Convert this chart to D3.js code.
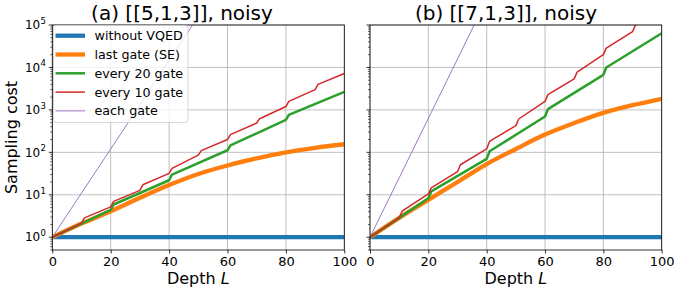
<!DOCTYPE html>
<html lang="en">
<head>
  <meta charset="utf-8">
  <title>Sampling cost</title>
  <script src="https://cdn.jsdelivr.net/npm/d3@7"></script>
  <style>
    body { margin: 0; background: #fff; }
    text { font-family: "DejaVu Sans", sans-serif; fill: #000; }
  </style>
</head>
<body>
  <script>
    // panel titles and legend names
    var panelTitles = ["(a) [[5,1,3]], noisy", "(b) [[7,1,3]], noisy"];
    var seriesNames = ["without VQED", "last gate (SE)", "every 20 gate", "every 10 gate", "each gate"];

    var xTicks = [0, 20, 40, 60, 80, 100];
    var yTickExps = [0, 1, 2, 3, 4, 5];

    // depth samples for each series
    var depthFlat = [0, 100];
    var depthSmooth = [0, 10, 20, 30, 40, 50, 60, 70, 80, 90, 100];
    var depthEvery20 = [0, 10, 20, 21, 40, 41, 60, 61, 80, 81, 100];
    var depthEvery10 = [0, 10, 11, 20, 21, 30, 31, 40, 41, 50, 51, 60, 61, 70, 71, 80, 81, 90, 91, 100];
    var depthEach = [0, 10, 20, 30, 40, 50];

    // (a) [[5,1,3]]
    var withoutA = [1, 1];
    var lastGateA = [1, 2.1, 4.1, 8.5, 17, 31, 49, 72, 100, 128, 155];
    var every20A = [1, 2.1, 4.4, 5.9, 22, 30, 112, 146, 580, 760, 2650];
    var every10A = [1, 2.15, 2.86, 5.2, 7.0, 12.7, 17.2, 32, 42, 86, 110, 200, 262, 490, 620, 1200, 1585, 3000, 4000, 7200];
    var eachA = [1, 11, 120, 1300, 14500, 160000];

    // (b) [[7,1,3]]
    var withoutB = [1, 1];
    var lastGateB = [1, 2.86, 7.6, 20, 53, 120, 262, 490, 850, 1290, 1830];
    var every20B = [1, 2.86, 8.3, 12, 70, 106, 700, 1040, 6700, 10000, 64000];
    var every10B = [1, 2.86, 4.1, 10.5, 14.5, 35, 51, 120, 182, 425, 610, 1585, 2290, 5370, 7800, 20000, 28600, 70000, 100000, 250000];
    var eachB = [1, 25, 630, 15800, 400000];

    var colors = ["#1f77b4", "#ff7f0e", "#2ca02c", "#d62728", "#9467bd"];
    var widths = [4.3, 4.3, 2.5, 1.5, 0.9];

    var w = 676, h = 290;
    var plotTop = 25, plotBottom = 250;
    var panels = [
      { left: 52.3, right: 344.3, title: panelTitles[0], titleX: 182, labels: true,
        series: [[depthFlat, withoutA], [depthSmooth, lastGateA], [depthEvery20, every20A], [depthEvery10, every10A], [depthEach, eachA]] },
      { left: 370, right: 661.7, title: panelTitles[1], titleX: 506, labels: false,
        series: [[depthFlat, withoutB], [depthSmooth, lastGateB], [depthEvery20, every20B], [depthEvery10, every10B], [depthEach, eachB]] }
    ];

    var svg = d3.select("body").append("svg")
      .attr("width", w)
      .attr("height", h);

    var y = d3.scaleLog().domain([0.5, 1e5]).range([plotBottom, plotTop]);

    panels.forEach(function (p, pi) {
      var x = d3.scaleLinear().domain([0, 100]).range([p.left, p.right]);
      var g = svg.append("g");
      var clipId = "clip" + pi;

      g.append("clipPath").attr("id", clipId)
        .append("rect")
        .attr("x", p.left).attr("y", plotTop)
        .attr("width", p.right - p.left).attr("height", plotBottom - plotTop);

      // grid
      g.selectAll(".gx").data(xTicks).enter().append("line")
        .attr("x1", function (d) { return x(d); }).attr("x2", function (d) { return x(d); })
        .attr("y1", plotTop).attr("y2", plotBottom)
        .attr("stroke", "#b0b0b0").attr("stroke-width", 0.8);
      g.selectAll(".gy").data(yTickExps).enter().append("line")
        .attr("x1", p.left).attr("x2", p.right)
        .attr("y1", function (d) { return y(Math.pow(10, d)); })
        .attr("y2", function (d) { return y(Math.pow(10, d)); })
        .attr("stroke", "#b0b0b0").attr("stroke-width", 0.8);

      // series
      var plot = g.append("g").attr("clip-path", "url(#" + clipId + ")");
      p.series.forEach(function (s, si) {
        var pts = s[0].map(function (d, i) { return [d, s[1][i]]; });
        var line = d3.line()
          .x(function (d) { return x(d[0]); })
          .y(function (d) { return y(d[1]); })
          .curve(si === 1 ? d3.curveMonotoneX : d3.curveLinear);
        plot.append("path")
          .attr("d", line(pts))
          .attr("fill", "none")
          .attr("stroke", colors[si])
          .attr("stroke-width", widths[si])
          .attr("stroke-linejoin", "round");
      });

      // x axis
      var xAxis = g.append("g")
        .attr("transform", "translate(0," + plotBottom + ")")
        .call(d3.axisBottom(x).tickValues(xTicks).tickSize(3.5).tickPadding(3));
      xAxis.select(".domain").remove();
      xAxis.selectAll("text").attr("font-size", 13).attr("font-family", "DejaVu Sans");
      xAxis.selectAll("line").attr("stroke-width", 0.8);

      // y axis, major and minor ticks
      var minor = [];
      for (var e = -1; e < 5; e++) {
        for (var k = 2; k < 10; k++) {
          var v = k * Math.pow(10, e);
          if (v >= 0.5 && v <= 1e5) minor.push(v);
        }
      }
      g.selectAll(".ym").data(minor).enter().append("line")
        .attr("x1", p.left - 2).attr("x2", p.left)
        .attr("y1", function (d) { return y(d); }).attr("y2", function (d) { return y(d); })
        .attr("stroke", "#000").attr("stroke-width", 0.6);
      g.selectAll(".yM").data(yTickExps).enter().append("line")
        .attr("x1", p.left - 3.5).attr("x2", p.left)
        .attr("y1", function (d) { return y(Math.pow(10, d)); })
        .attr("y2", function (d) { return y(Math.pow(10, d)); })
        .attr("stroke", "#000").attr("stroke-width", 0.8);

      if (p.labels) {
        g.selectAll(".yl").data(yTickExps).enter().append("text")
          .attr("x", 40.2)
          .attr("y", function (d) { return y(Math.pow(10, d)) + 4.2; })
          .attr("text-anchor", "end")
          .attr("font-size", 12)
          .text("10");
        g.selectAll(".ye").data(yTickExps).enter().append("text")
          .attr("x", 40.6)
          .attr("y", function (d) { return y(Math.pow(10, d)) - 1; })
          .attr("font-size", 8.5)
          .text(function (d) { return d; });

        svg.append("text")
          .attr("transform", "translate(17," + ((plotTop + plotBottom) / 2) + ") rotate(-90)")
          .attr("text-anchor", "middle")
          .attr("font-size", 16)
          .text("Sampling cost");
      }

      // frame
      g.append("rect")
        .attr("x", p.left).attr("y", plotTop)
        .attr("width", p.right - p.left).attr("height", plotBottom - plotTop)
        .attr("fill", "none").attr("stroke", "#000").attr("stroke-width", 0.8);

      // title and x label
      g.append("text")
        .attr("x", p.titleX).attr("y", 20)
        .attr("text-anchor", "middle").attr("font-size", 20)
        .text(p.title);
      var xl = g.append("text")
        .attr("x", (p.left + p.right) / 2).attr("y", 284)
        .attr("text-anchor", "middle").attr("font-size", 16);
      xl.append("tspan").text("Depth ");
      xl.append("tspan").attr("font-style", "italic").text("L");

      // legend on the first panel
      if (pi === 0) {
        var lg = g.append("g");
        lg.append("rect")
          .attr("x", 53.5).attr("y", 25.5).attr("width", 134.5).attr("height", 97)
          .attr("rx", 2.5)
          .attr("fill", "#fff").attr("fill-opacity", 0.8)
          .attr("stroke", "#cccccc").attr("stroke-width", 0.8);
        seriesNames.forEach(function (name, i) {
          var yy = 35.7 + i * 18.8;
          lg.append("line")
            .attr("x1", 55.5).attr("x2", 85).attr("y1", yy).attr("y2", yy)
            .attr("stroke", colors[i]).attr("stroke-width", widths[i]);
          lg.append("text")
            .attr("x", 94.5).attr("y", yy + 4.5)
            .attr("font-size", 12.7)
            .text(name);
        });
      }
    });
  </script>
</body>
</html>
